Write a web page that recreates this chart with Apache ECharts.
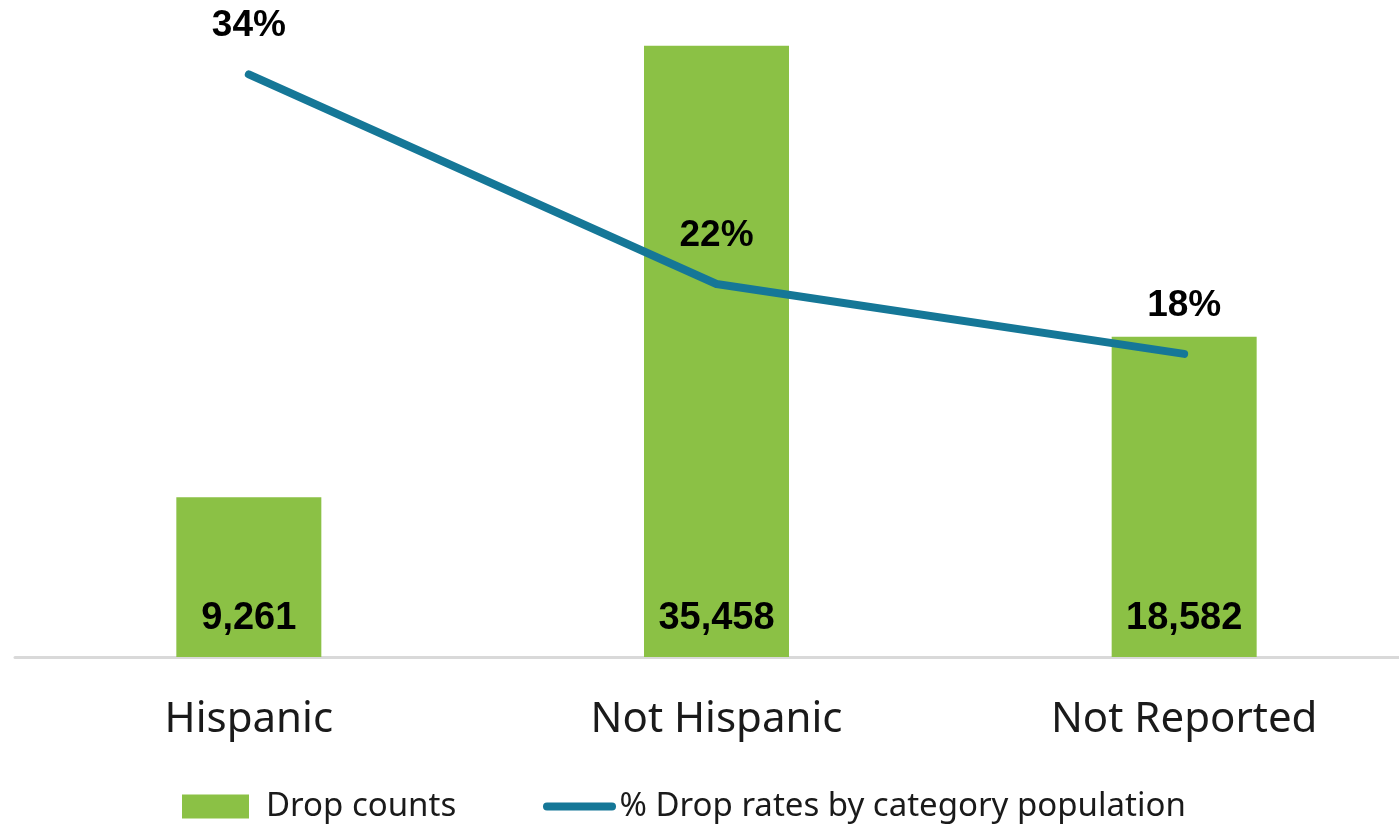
<!DOCTYPE html>
<html>
<head>
<meta charset="utf-8">
<script src="https://cdn.jsdelivr.net/npm/echarts@6/dist/echarts.min.js"></script>
<style>
  html, body { margin: 0; padding: 0; background: #ffffff; }
  #chart { width: 1399px; height: 824px; }
</style>
</head>
<body>
<div id="chart"></div>
<script>
// Ethnicity categories along the x axis
const categories = ['Hispanic', 'Not Hispanic', 'Not Reported'];
// Number of drops in each category
const dropCounts = [9261, 35458, 18582];
// Drop rate as a percentage of each category's population
const dropRates = [34, 22, 18];

const seriesNames = ['Drop counts', '% Drop rates by category population'];

const BAR_COLOR = '#8bc145';
const LINE_COLOR = '#157797';

const chart = echarts.init(document.getElementById('chart'), null, { renderer: 'canvas' });

chart.setOption({
  backgroundColor: '#ffffff',
  animation: false,
  // The plot area runs slightly past the right edge of the canvas
  grid: { left: 15, width: 1403, top: 2, height: 655, outerBoundsMode: 'none', containLabel: false },
  legend: [
    {
      data: [{ name: seriesNames[0], icon: 'rect' }],
      left: 177, top: 785,
      itemWidth: 67, itemHeight: 24,
      textStyle: { fontFamily: 'Noto Sans', fontSize: 33, color: '#1a1a1a', padding: [0, 0, 0, 12] },
      selectedMode: false
    },
    {
      data: [{
        name: seriesNames[1],
        icon: 'path://M0,0M0,24M4,8L69,8A4,4 0 0 1 69,16L4,16A4,4 0 0 1 4,8Z',
        itemStyle: { color: LINE_COLOR }
      }],
      left: 538, top: 785,
      itemWidth: 74, itemHeight: 24,
      textStyle: { fontFamily: 'Noto Sans', fontSize: 33, color: '#1a1a1a', padding: [0, 0, 0, -2] },
      selectedMode: false
    }
  ],
  xAxis: {
    type: 'category',
    data: categories,
    axisLine: { show: true, lineStyle: { color: '#d9d9d9', width: 3 } },
    axisTick: { show: false },
    axisLabel: {
      fontFamily: 'Noto Sans', fontSize: 42, color: '#1a1a1a', margin: 42
    },
    splitLine: { show: false }
  },
  yAxis: [
    { type: 'value', min: 0, max: 38000, show: false, splitLine: { show: false } },
    { type: 'value', min: 0.65, max: 38.14, show: false, splitLine: { show: false } }
  ],
  series: [
    {
      name: seriesNames[0],
      type: 'bar',
      data: dropCounts,
      barWidth: 145,
      yAxisIndex: 0,
      itemStyle: { color: BAR_COLOR },
      label: {
        show: true,
        position: 'insideBottom',
        distance: 19,
        fontFamily: 'Liberation Sans',
        fontWeight: 'bold',
        fontSize: 38,
        color: '#000000',
        formatter: p => p.value.toLocaleString('en-US')
      }
    },
    {
      name: seriesNames[1],
      type: 'line',
      data: dropRates,
      yAxisIndex: 1,
      symbol: 'circle',
      symbolSize: 0,
      showSymbol: true,
      lineStyle: { color: LINE_COLOR, width: 8, cap: 'round', join: 'round' },
      itemStyle: { color: LINE_COLOR },
      label: {
        show: true,
        position: 'top',
        distance: 30,
        fontFamily: 'Liberation Sans',
        fontWeight: 'bold',
        fontSize: 37,
        color: '#000000',
        formatter: p => p.value + '%'
      },
      z: 3
    }
  ]
});
</script>
</body>
</html>
